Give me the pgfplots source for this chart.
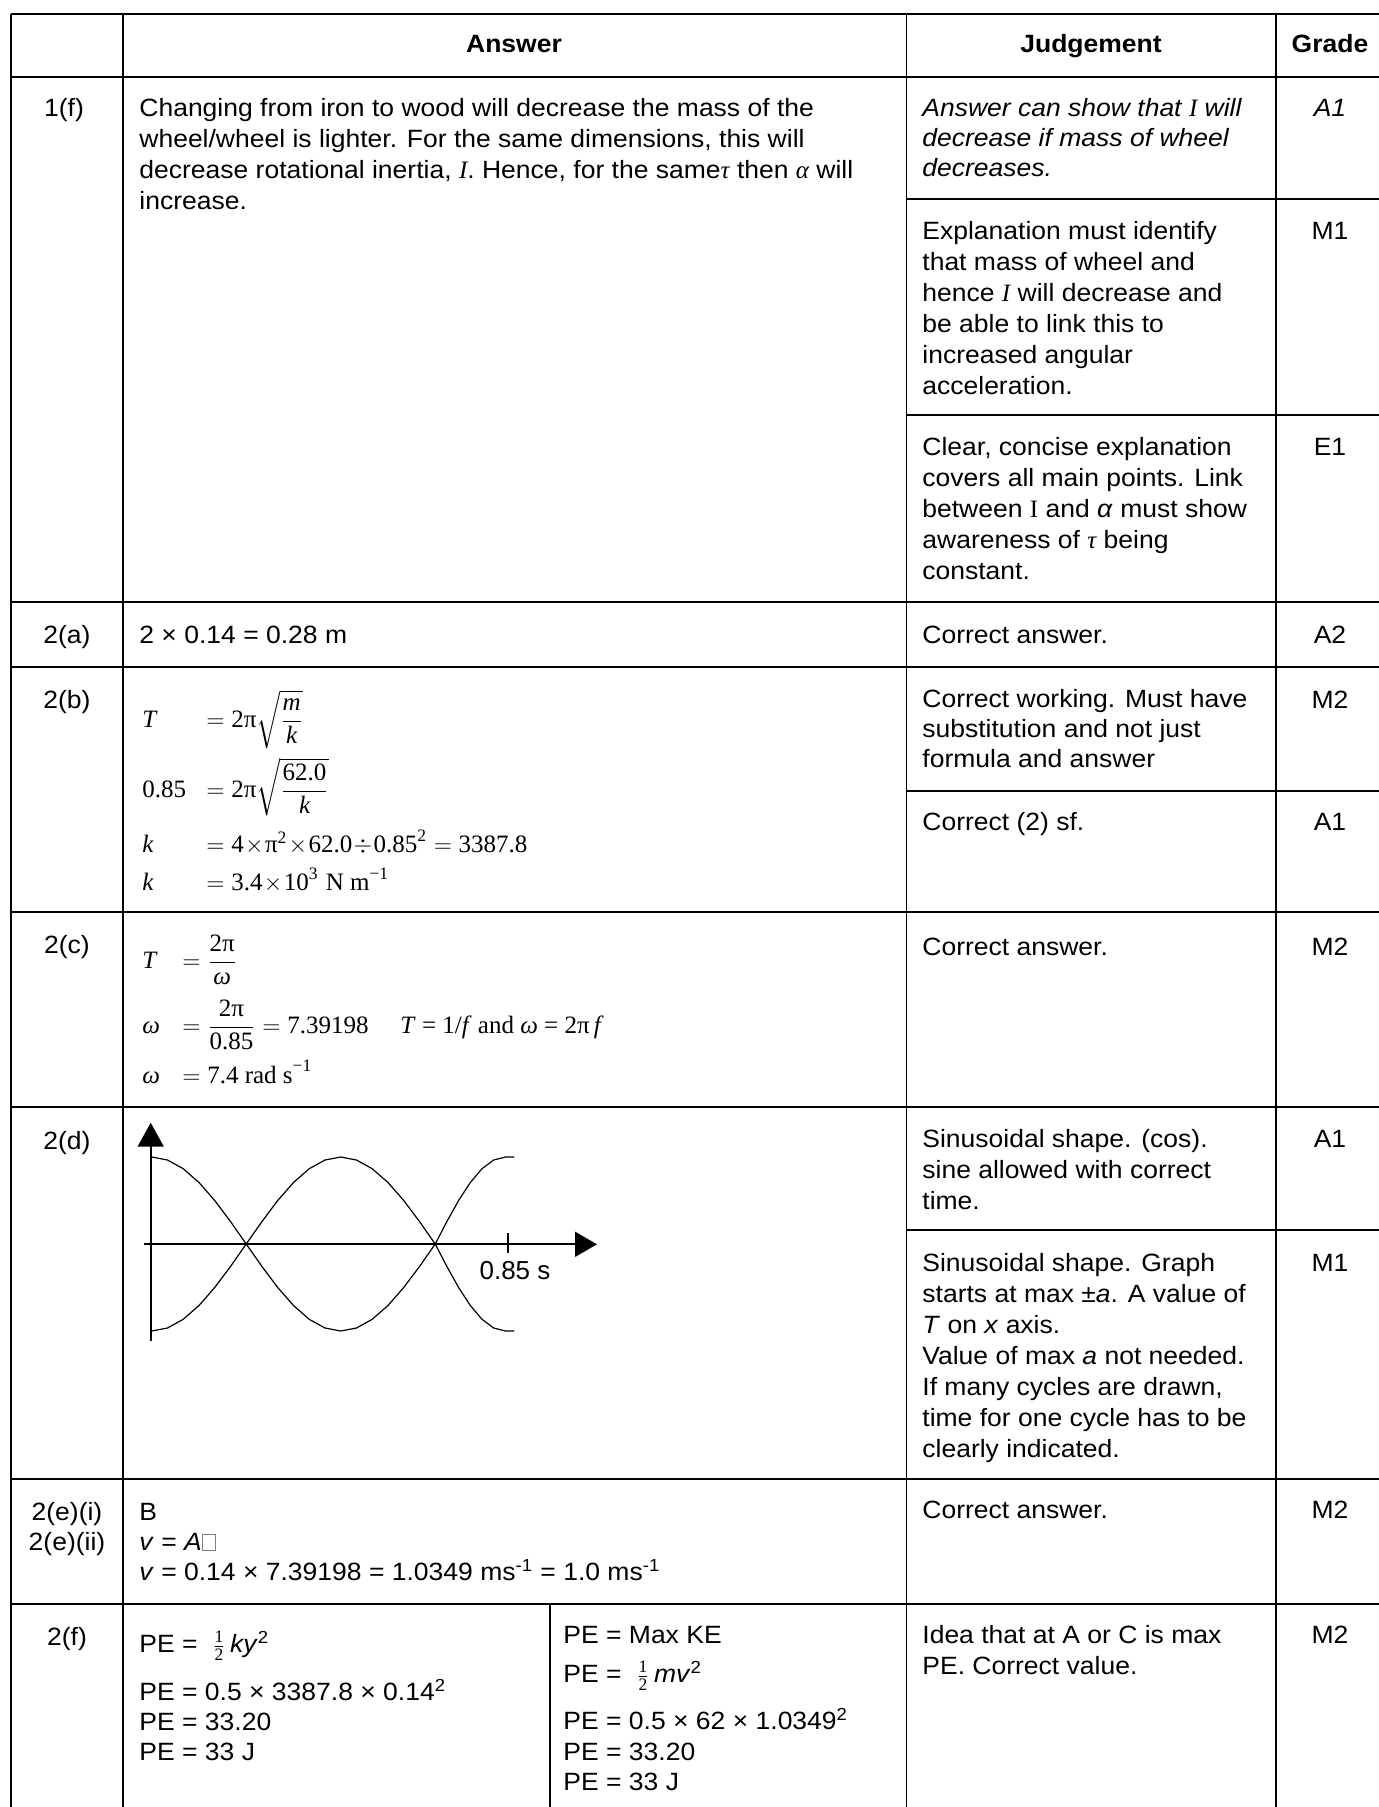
\documentclass[border=0pt]{standalone}
\usepackage{amsmath}
\usepackage{fontspec}
\setmainfont{Liberation Sans}[FakeStretch=1.06]
\newfontfamily\tms{Liberation Serif}
\newfontfamily\plain{Liberation Sans}
\usepackage{pgfplots}
\pgfplotsset{compat=1.18}
\usetikzlibrary{arrows.meta}
\newcommand\fs{\fontsize{12.5bp}{15bp}\selectfont}
\newcommand\R[1]{\text{\tms #1}}
\newcommand\I[1]{\text{\tms\itshape #1}}
\newcommand\missing{{\color{gray}\setlength\fboxsep{0pt}\setlength\fboxrule{0.4pt}\fbox{\phantom{\rule{0.5em}{0.62em}}}}}
\begin{document}
\begin{tikzpicture}[T/.style={anchor=base west,inner sep=0pt,font=\fs},C/.style={anchor=base,inner sep=0pt,font=\fs}]
\begin{axis}[scale only axis, width=689.5bp, height=903.5bp, xmin=0, xmax=1379, ymin=0, ymax=1807, y dir=reverse, axis lines=none, clip=false]
% table rules
\draw[line width=0.95bp] (axis cs:11,14) -- (axis cs:1379,14);
\draw[line width=0.95bp] (axis cs:11,77) -- (axis cs:1379,77);
\draw[line width=0.95bp] (axis cs:11,602) -- (axis cs:1379,602);
\draw[line width=0.95bp] (axis cs:11,667) -- (axis cs:1379,667);
\draw[line width=0.95bp] (axis cs:11,912) -- (axis cs:1379,912);
\draw[line width=0.95bp] (axis cs:11,1107) -- (axis cs:1379,1107);
\draw[line width=0.95bp] (axis cs:11,1479) -- (axis cs:1379,1479);
\draw[line width=0.95bp] (axis cs:11,1604) -- (axis cs:1379,1604);
\draw[line width=0.95bp] (axis cs:906.5,199) -- (axis cs:1379,199);
\draw[line width=0.95bp] (axis cs:906.5,415) -- (axis cs:1379,415);
\draw[line width=0.95bp] (axis cs:906.5,791) -- (axis cs:1379,791);
\draw[line width=0.95bp] (axis cs:906.5,1230) -- (axis cs:1379,1230);
\draw[line width=0.9bp] (axis cs:11,14) -- (axis cs:11,1807);
\draw[line width=0.9bp] (axis cs:123,14) -- (axis cs:123,1807);
\draw[line width=0.9bp] (axis cs:906.5,14) -- (axis cs:906.5,1807);
\draw[line width=0.9bp] (axis cs:1276,14) -- (axis cs:1276,1807);
\draw[line width=0.9bp] (axis cs:550,1604) -- (axis cs:550,1807);
% header
\node[C,font=\fs\bfseries] at (axis cs:514,53) {Answer};
\node[C,font=\fs\bfseries] at (axis cs:1091,53) {Judgement};
\node[C,font=\fs\bfseries] at (axis cs:1330,53) {Grade};
% question labels
\node[C] at (axis cs:64,116) {1(f)};
\node[C] at (axis cs:67,643) {2(a)};
\node[C] at (axis cs:67,708) {2(b)};
\node[C] at (axis cs:67,953) {2(c)};
\node[C] at (axis cs:67,1149) {2(d)};
\node[C] at (axis cs:67,1520) {2(e)(i)};
\node[C] at (axis cs:67,1550) {2(e)(ii)};
\node[C] at (axis cs:67,1645) {2(f)};
% grades
\node[C,font=\fs\itshape] at (axis cs:1330,116) {A1};
\node[C] at (axis cs:1330,239) {M1};
\node[C] at (axis cs:1330,455) {E1};
\node[C] at (axis cs:1330,643) {A2};
\node[C] at (axis cs:1330,708) {M2};
\node[C] at (axis cs:1330,830) {A1};
\node[C] at (axis cs:1330,955) {M2};
\node[C] at (axis cs:1330,1147) {A1};
\node[C] at (axis cs:1330,1271) {M1};
\node[C] at (axis cs:1330,1518) {M2};
\node[C] at (axis cs:1330,1643) {M2};
% 1(f) answer
\node[T] at (axis cs:139,116) {Changing from iron to wood will decrease the mass of the};
\node[T] at (axis cs:139,147) {wheel/wheel is lighter. For the same dimensions, this will};
\node[T] at (axis cs:139,178) {decrease rotational inertia, {\tms\itshape I}. Hence, for the same{\tms\itshape τ} then {\tms\itshape α} will};
\node[T] at (axis cs:139,209) {increase.};
% 1(f) judgement
\node[T,font=\fs\itshape] at (axis cs:922,116) {Answer can show that {\tms I} will};
\node[T,font=\fs\itshape] at (axis cs:922,146) {decrease if mass of wheel};
\node[T,font=\fs\itshape] at (axis cs:922,176) {decreases.};
\node[T] at (axis cs:922,239) {Explanation must identify};
\node[T] at (axis cs:922,270) {that mass of wheel and};
\node[T] at (axis cs:922,301) {hence {\tms\itshape I} will decrease and};
\node[T] at (axis cs:922,332) {be able to link this to};
\node[T] at (axis cs:922,363) {increased angular};
\node[T] at (axis cs:922,394) {acceleration.};
\node[T] at (axis cs:922,455) {Clear, concise explanation};
\node[T] at (axis cs:922,486) {covers all main points. Link};
\node[T] at (axis cs:922,517) {between {\tms I} and \textit{α} must show};
\node[T] at (axis cs:922,548) {awareness of {\tms\itshape τ} being};
\node[T] at (axis cs:922,579) {constant.};
% 2(a)
\node[T] at (axis cs:139,643) {2 × 0.14 = 0.28 m};
\node[T] at (axis cs:922,643) {Correct answer.};
% 2(b)
\node[T] at (axis cs:142,727) {$\I{T}$};
\node[T] at (axis cs:206,727) {$=\R{2π}\sqrt{\dfrac{\I{m}}{\I{k}}}$};
\node[T] at (axis cs:142,797) {$\R{0.85}$};
\node[T] at (axis cs:206,797) {$=\R{2π}\sqrt{\dfrac{\R{62.0}}{\I{k}}}$};
\node[T] at (axis cs:142,852) {$\I{k}$};
\node[T] at (axis cs:206,852) {$=\R{4}\!\times\!\R{π}^{\R{2}}\!\times\!\R{62.0}\!\div\!\R{0.85}^{\R{2}}=\R{3387.8}$};
\node[T] at (axis cs:142,890) {$\I{k}$};
\node[T] at (axis cs:206,890) {$=\R{3.4}\!\times\!\R{10}^{\R{3}}\ \R{N m}^{\R{−1}}$};
\node[T] at (axis cs:922,707) {Correct working. Must have};
\node[T] at (axis cs:922,737) {substitution and not just};
\node[T] at (axis cs:922,767) {formula and answer};
\node[T] at (axis cs:922,830) {Correct (2) sf.};
% 2(c)
\node[T] at (axis cs:142,968) {$\I{T}$};
\node[T] at (axis cs:182,968) {$=\dfrac{\R{2π}}{\I{ω}}$};
\node[T] at (axis cs:142,1033) {$\I{ω}$};
\node[T] at (axis cs:182,1033) {$=\dfrac{\R{2π}}{\R{0.85}}=\R{7.39198}$};
\node[T] at (axis cs:400,1033) {\tms\textit{T} = 1/\textit{f} and \textit{ω} = 2π\,\textit{f}};
\node[T] at (axis cs:142,1083) {$\I{ω}$};
\node[T] at (axis cs:182,1083) {$=\R{7.4 rad s}^{\R{−1}}$};
\node[T] at (axis cs:922,955) {Correct answer.};
% 2(d) graph
\addplot[line width=0.6bp, black] coordinates {(151.7,1157) (167.5,1160) (183.2,1168.7) (199.0,1182.5) (214.7,1200.5) (230.5,1221.5) (246.2,1244) (262.0,1266.5) (277.7,1287.5) (293.5,1305.5) (309.2,1319.3) (325.0,1328) (340.7,1331) (356.5,1328) (372.2,1319.3) (388.0,1305.5) (403.7,1287.5) (419.5,1266.5) (435.2,1244) (446.9,1221.5) (458.6,1200.5) (470.3,1182.5) (482.0,1168.7) (493.7,1160) (505.4,1157) (514.3,1157)};
\addplot[line width=0.6bp, black] coordinates {(151.7,1331) (167.5,1328) (183.2,1319.3) (199.0,1305.5) (214.7,1287.5) (230.5,1266.5) (246.2,1244) (262.0,1221.5) (277.7,1200.5) (293.5,1182.5) (309.2,1168.7) (325.0,1160) (340.7,1157) (356.5,1160) (372.2,1168.7) (388.0,1182.5) (403.7,1200.5) (419.5,1221.5) (435.2,1244) (446.9,1266.5) (458.6,1287.5) (470.3,1305.5) (482.0,1319.3) (493.7,1328) (505.4,1331) (514.3,1331)};
\addplot[line width=0.85bp, black, -{Triangle[length=12bp,width=13bp]}] coordinates {(150.7,1341) (150.7,1122.7)};
\addplot[line width=0.85bp, black, -{Triangle[length=11bp,width=12.5bp]}] coordinates {(144,1244.3) (597,1244.3)};
\addplot[line width=0.85bp, black] coordinates {(508,1233) (508,1253)};
\node[C,font=\plain\fontsize{13bp}{15bp}\selectfont] at (axis cs:515,1279) {0.85 s};
\node[T] at (axis cs:922,1147) {Sinusoidal shape. (cos).};
\node[T] at (axis cs:922,1178) {sine allowed with correct};
\node[T] at (axis cs:922,1209) {time.};
\node[T] at (axis cs:922,1271) {Sinusoidal shape. Graph};
\node[T] at (axis cs:922,1302) {starts at max ±\textit{a}. A value of};
\node[T] at (axis cs:922,1333) {\textit{T} on \textit{x} axis.};
\node[T] at (axis cs:922,1364) {Value of max \textit{a} not needed.};
\node[T] at (axis cs:922,1395) {If many cycles are drawn,};
\node[T] at (axis cs:922,1426) {time for one cycle has to be};
\node[T] at (axis cs:922,1457) {clearly indicated.};
% 2(e)
\node[T] at (axis cs:139,1520) {B};
\node[T] at (axis cs:139,1550) {\textit{v} = \textit{A}\missing};
\node[T] at (axis cs:139,1580) {\textit{v} = 0.14 × 7.39198 = 1.0349 ms\textsuperscript{-1} = 1.0 ms\textsuperscript{-1}};
\node[T] at (axis cs:922,1518) {Correct answer.};
% 2(f)
\node[T] at (axis cs:139,1652) {PE = \ $\frac{\R{1}}{\R{2}}$\,\textit{ky}\textsuperscript{2}};
\node[T] at (axis cs:139,1700) {PE = 0.5 × 3387.8 × 0.14\textsuperscript{2}};
\node[T] at (axis cs:139,1730) {PE = 33.20};
\node[T] at (axis cs:139,1760) {PE = 33 J};
\node[T] at (axis cs:563,1643) {PE = Max KE};
\node[T] at (axis cs:563,1682) {PE = \ $\frac{\R{1}}{\R{2}}$\,\textit{mv}\textsuperscript{2}};
\node[T] at (axis cs:563,1729) {PE = 0.5 × 62 × 1.0349\textsuperscript{2}};
\node[T] at (axis cs:563,1760) {PE = 33.20};
\node[T] at (axis cs:563,1790) {PE = 33 J};
\node[T] at (axis cs:922,1643) {Idea that at A or C is max};
\node[T] at (axis cs:922,1674) {PE. Correct value.};
\end{axis}
\pgfresetboundingbox
\path (current axis.south west) rectangle (current axis.north east);
\end{tikzpicture}
\end{document}
